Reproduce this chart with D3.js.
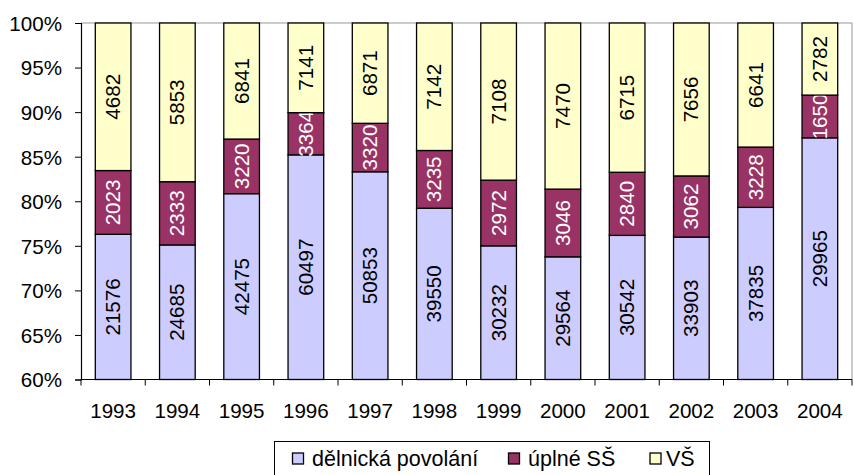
<!DOCTYPE html>
<html><head><meta charset="utf-8">
<script src="https://cdn.jsdelivr.net/npm/d3@7"></script>
<style>body{margin:0;background:#fff}svg{display:block;font-family:"Liberation Sans",Arial,sans-serif}</style>
</head><body><svg id="c" width="854" height="475"></svg>
<script>
const years = ["1993","1994","1995","1996","1997","1998","1999","2000","2001","2002","2003","2004"];
const delnicka = [21576,24685,42475,60497,50853,39550,30232,29564,30542,33903,37835,29965];
const uplneSS = [2023,2333,3220,3364,3320,3235,2972,3046,2840,3062,3228,1650];
const vs = [4682,5853,6841,7141,6871,7142,7108,7470,6715,7656,6641,2782];
const seriesNames = ["dělnická povolání","úplné SŠ","VŠ"];
const seriesColors = ["#CCCCFF","#993366","#FFFFCC"];
const labelColors = ["#000","#fff","#000"];
const yTicks = [0.6,0.65,0.7,0.75,0.8,0.85,0.9,0.95,1.0];

const svg = d3.select("#c");
const L=81, R=852, T=23, B=379.5;
const FS = 20.6;
const x = d3.scaleBand().domain(years).range([L,R]).paddingInner(0.445).paddingOuter(0.2225);
const y = d3.scaleLinear().domain([0.6,1]).range([B,T]);

const rows = years.map((yr,i)=>({year:yr, s0:delnicka[i], s1:uplneSS[i], s2:vs[i]}));
const stack = d3.stack().keys(["s0","s1","s2"]).offset(d3.stackOffsetExpand)(rows);
const raw = {s0:delnicka, s1:uplneSS, s2:vs};

svg.append("path").attr("d",`M${L},${T}H${R}V${B}`).attr("fill","none").attr("stroke","#999").attr("stroke-width",1);

stack.forEach((layer,k)=>{
  const g = svg.append("g");
  layer.forEach((d,i)=>{
    const y0 = Math.max(d[0],0.6), y1 = d[1];
    const top = y(y1), bot = y(y0);
    const bx = x(years[i]), bw = x.bandwidth();
    g.append("rect").attr("x",bx).attr("y",top).attr("width",bw).attr("height",bot-top)
      .attr("fill",seriesColors[k]).attr("stroke","#000").attr("stroke-width",1.3);
    const cx = bx+bw/2, cy = (top+bot)/2;
    g.append("text").attr("transform",`translate(${cx+7},${cy}) rotate(-90)`)
      .attr("text-anchor","middle").attr("font-size",FS).attr("fill",labelColors[k])
      .text(raw[layer.key][i]);
  });
});

const ya = svg.append("g").attr("transform",`translate(${L},0)`)
  .call(d3.axisLeft(y).tickValues(yTicks).tickFormat(d3.format(".0%")).tickSize(6).tickPadding(13));
ya.select(".domain").attr("stroke","#000").attr("stroke-width",1.2);
ya.selectAll(".tick line").attr("stroke","#000");
ya.selectAll("text").attr("font-size",FS).attr("fill","#000").attr("font-family","Liberation Sans,Arial,sans-serif").attr("dy","0.36em");

const xa = svg.append("g").attr("transform",`translate(0,${B})`);
xa.append("line").attr("x1",L).attr("x2",R).attr("stroke","#000").attr("stroke-width",1.2);
d3.range(years.length+1).forEach(i=>{
  const xx = L + (R-L)*i/years.length;
  xa.append("line").attr("x1",xx).attr("x2",xx).attr("y1",0).attr("y2",6).attr("stroke","#000");
});
years.forEach(yr=>{
  xa.append("text").attr("x",x(yr)+x.bandwidth()/2).attr("y",38).attr("text-anchor","middle")
    .attr("font-size",FS).attr("fill","#000").text(yr);
});

const lg = svg.append("g");
lg.append("rect").attr("x",274.5).attr("y",441.5).attr("width",435).attr("height",40).attr("fill","#fff").attr("stroke","#000");
const mx = [292.5,508.5,650];
const tx = [312,528,666];
mx.forEach((px,k)=>{
  lg.append("rect").attr("x",px).attr("y",453).attr("width",11).attr("height",11)
    .attr("fill",seriesColors[k]).attr("stroke","#000").attr("stroke-width",1.3);
  lg.append("text").attr("x",tx[k]).attr("y",466).attr("font-size",21.5).attr("fill","#000").text(seriesNames[k]);
});
</script></body></html>
